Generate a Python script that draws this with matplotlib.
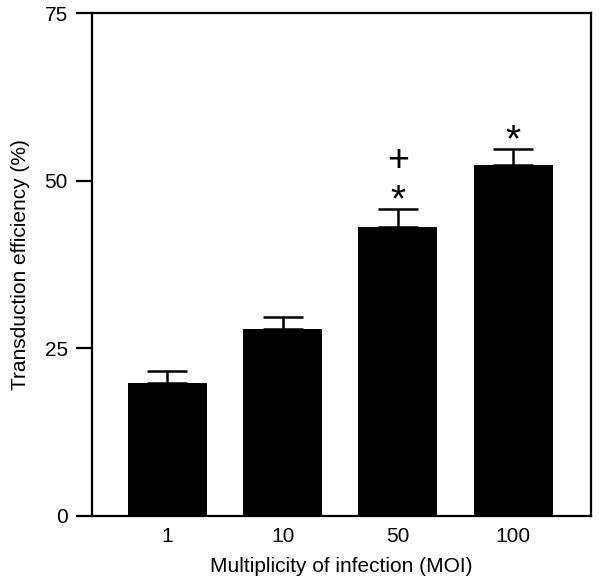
import matplotlib
matplotlib.use("Agg")
import matplotlib.pyplot as plt

categories = ["1", "10", "50", "100"]
values = [19.8, 27.9, 43.1, 52.4]
errors = [1.9, 1.8, 2.7, 2.3]
star_marks = ["", "", "*", "*"]
plus_marks = ["", "", "+", ""]

plt.rcParams['font.family'] = ['Liberation Sans', 'DejaVu Sans']

fig = plt.figure(figsize=(6.0, 5.87), dpi=100)
ax = fig.add_axes([0.1533, 0.121, 0.8317, 0.8563])

x = list(range(len(categories)))
ax.bar(x, values, width=0.685, color='black', zorder=2)
ax.errorbar(x, values, yerr=[[0]*len(values), errors], fmt='none', ecolor='black',
            elinewidth=1.8, capsize=14.5, capthick=1.8, zorder=3)

for xi, v, e, s, p in zip(x, values, errors, star_marks, plus_marks):
    top = v + e
    if s:
        ax.annotate(s, (xi, top), xytext=(0, -1.5), textcoords='offset points',
                    ha='center', va='baseline', fontsize=28)
    if p:
        ax.annotate(p, (xi, top), xytext=(0, 27.5), textcoords='offset points',
                    ha='center', va='baseline', fontsize=27)

ax.set_xlim(-0.655, 3.675)
ax.set_ylim(0, 75)
ax.set_yticks([0, 25, 50, 75])
ax.set_xticks(x)
ax.set_xticklabels(categories)
for sp in ax.spines.values():
    sp.set_linewidth(1.6)
ax.tick_params(axis='y', length=11.5, width=1.6, labelsize=15, pad=6)
ax.tick_params(axis='x', length=0, labelsize=15, pad=8)
ax.set_xlabel("Multiplicity of infection (MOI)", fontsize=15, labelpad=8)
ax.set_ylabel("Transduction efficiency (%)", fontsize=15, labelpad=10)

fig.savefig("out.png", dpi=100)
